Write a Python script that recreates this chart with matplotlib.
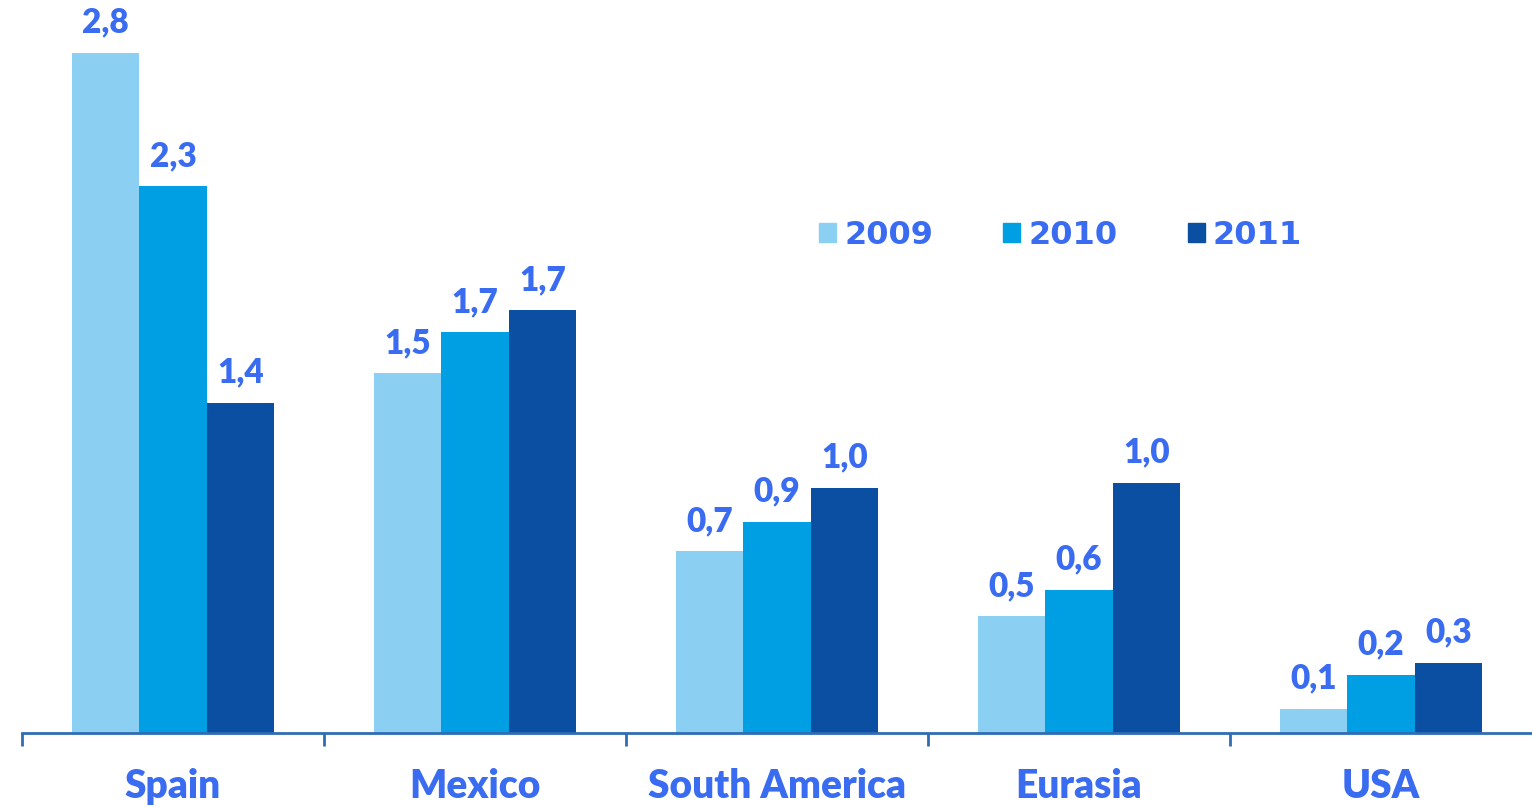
import matplotlib
matplotlib.use("Agg")
import matplotlib.pyplot as plt
import numpy as np
from matplotlib.patches import Patch

categories = ["Spain", "Mexico", "South America", "Eurasia", "USA"]
years = ["2009", "2010", "2011"]
# bar heights
v2009 = [2.80, 1.48, 0.75, 0.48, 0.10]
v2010 = [2.25, 1.65, 0.87, 0.59, 0.24]
v2011 = [1.36, 1.74, 1.01, 1.03, 0.29]
# labels as printed on the chart
l2009 = ["2,8", "1,5", "0,7", "0,5", "0,1"]
l2010 = ["2,3", "1,7", "0,9", "0,6", "0,2"]
l2011 = ["1,4", "1,7", "1,0", "1,0", "0,3"]

colors = ["#8BD0F2", "#009FE3", "#0B4FA2"]
text_color = "#3A6CF2"
axis_color = "#2E6DB4"

plt.rcParams['font.family'] = ['Lato', 'DejaVu Sans']

fig = plt.figure(figsize=(15.32, 8.07), dpi=100)
ax = fig.add_axes([22/1532, 74/807, 1510/1532, 729/807])

x = np.arange(len(categories))
w = 0.223
series = [v2009, v2010, v2011]
labels = [l2009, l2010, l2011]
for i, (vals, labs) in enumerate(zip(series, labels)):
    bars = ax.bar(x + (i - 1) * w, vals, width=w, color=colors[i], label=years[i], zorder=2)
    ax.bar_label(bars, labels=labs, padding=10, color=text_color, fontsize=24,
                 fontweight='heavy')

ax.set_xlim(-0.5, 4.5)
ax.set_ylim(0, 3.0)
for s in ['top', 'right', 'left']:
    ax.spines[s].set_visible(False)
ax.spines['bottom'].set_color(axis_color)
ax.spines['bottom'].set_linewidth(2)
ax.set_yticks([])
ax.set_xticks(np.arange(-0.5, 4.5, 1.0))
ax.set_xticklabels([])
ax.tick_params(axis='x', which='major', direction='out', length=9, width=2, color=axis_color)
ax.set_xticks(x, minor=True)
ax.set_xticklabels(categories, minor=True)
ax.tick_params(axis='x', which='minor', length=0, pad=25, labelsize=28, labelcolor=text_color)
for t in ax.get_xticklabels(minor=True):
    t.set_fontweight('heavy')

handles = [Patch(color=c) for c in colors]
leg = ax.legend(handles, years, loc='center left', bbox_to_anchor=(0.528, 0.683),
                ncol=3, frameon=False, prop={'family': 'DejaVu Sans', 'size': 23, 'weight': 'bold'},
                handlelength=0.53, handleheight=0.53,
                handletextpad=0.25, columnspacing=2.2, borderpad=0, borderaxespad=0)
for t in leg.get_texts():
    t.set_color(text_color)

fig.savefig("out.png", dpi=100)
